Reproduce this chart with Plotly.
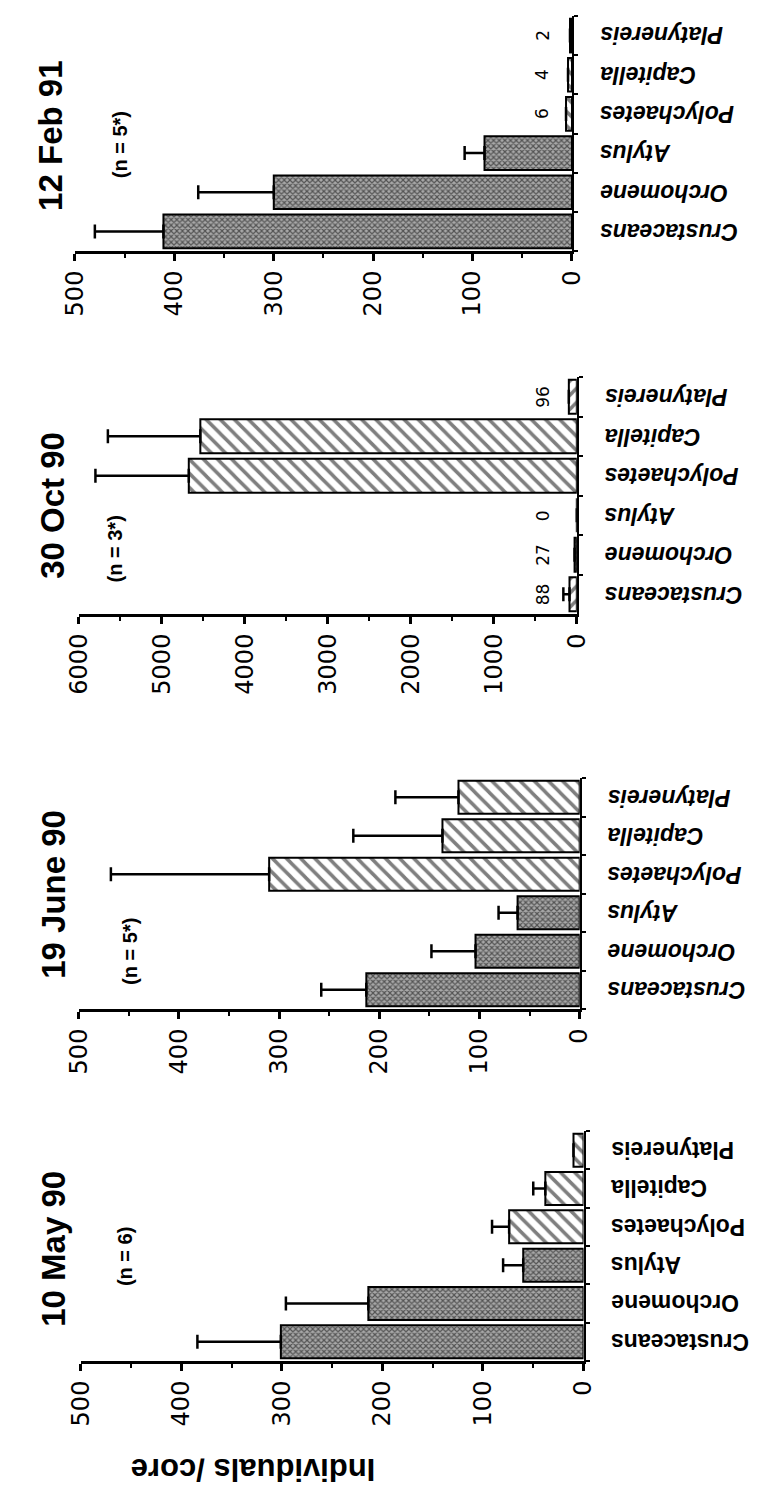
import plotly.graph_objects as go

W, H = 761, 1494

categories = ["Crustaceans", "Orchomene", "Atylus", "Polychaetes", "Capitella", "Platynereis"]

# Panels from top to bottom (image is a rotated page)
titles = ["12 Feb 91", "30 Oct 90", "19 June 90", "10 May 90"]
n_labels = ["(n = 5*)", "(n = 3*)", "(n = 5*)", "(n = 6)"]

feb_mean = [411, 300, 88, 6, 4, 2]
feb_sd = [69, 76, 20, 0, 0, 0]
oct_mean = [88, 27, 0, 4675, 4536, 96]
oct_sd = [74, 0, 0, 1125, 1114, 0]
june_mean = [213, 104, 62, 310, 137, 121]
june_sd = [45, 44, 19, 158, 89, 63]
may_mean = [301, 214, 60, 74, 38, 10]
may_sd = [83, 82, 20, 17, 12, 0]

oct_value_labels = ["88", "27", "0", "", "", "96"]
feb_value_labels = ["", "", "", "6", "4", "2"]

axis_max = [500, 6000, 500, 500]
axis_dtick = [100, 1000, 100, 100]
value_axis_title = "Individuals /core"

# layout geometry in pixels (left, right, top, bottom of plot area)
geom = [
    (55, 571, 8, 243),
    (59, 576, 369, 606),
    (59, 579, 770, 1001),
    (61, 583, 1123, 1353),
]
title_pos = [(30, 128), (32, 497), (32, 886), (32, 1241)]
n_pos = [(102, 137), (97, 541), (112, 943), (107, 1249)]

STIP = "x"
HATCH = "\\"
shapes_std = [STIP, STIP, STIP, HATCH, HATCH, HATCH]
shapes_oct = ["/", STIP, STIP, HATCH, HATCH, "/"]

means = [feb_mean, oct_mean, june_mean, may_mean]
sds = [feb_sd, oct_sd, june_sd, may_sd]
pshapes = [shapes_std, shapes_oct, shapes_std, shapes_std]

FONT = "Liberation Sans, Arial, sans-serif"
TICKFONT = "DejaVu Sans, sans-serif"

fig = go.Figure()
annotations = []

for i in range(4):
    xa = "x" if i == 0 else f"x{i+1}"
    ya = "y" if i == 0 else f"y{i+1}"
    shp = pshapes[i]
    sizes = [4 if s == STIP else 10 for s in shp]
    solid = [0.5 if s == STIP else 0.35 for s in shp]
    bgs = ["#a8a8a8" if s == STIP else "white" for s in shp]
    fig.add_trace(go.Bar(
        x=means[i], y=categories, orientation="h",
        xaxis=xa, yaxis=ya, width=0.86,
        marker=dict(color="white", line=dict(color="black", width=2),
                    pattern=dict(shape=shp, fgcolor="black", bgcolor=bgs,
                                 size=sizes, solidity=solid)),
        error_x=dict(type="data", symmetric=False, array=sds[i],
                     arrayminus=[0] * len(categories),
                     color="black", thickness=2.5, width=7),
        showlegend=False, hoverinfo="skip",
    ))

    l, r, t, b = geom[i]
    xkey = "xaxis" if i == 0 else f"xaxis{i+1}"
    ykey = "yaxis" if i == 0 else f"yaxis{i+1}"
    fig.update_layout(**{
        xkey: dict(
            domain=[l / W, r / W], anchor=ya,
            range=[axis_max[i], 0], tickmode="linear", tick0=0, dtick=axis_dtick[i],
            tickangle=-90, ticks="outside", ticklen=7, tickwidth=2.5, tickcolor="black",
            showline=True, linewidth=3, linecolor="black",
            tickfont=dict(family=TICKFONT, size=24, color="black"),
            minor=dict(dtick=axis_dtick[i] / 2, ticks="outside", ticklen=4,
                       tickwidth=2, tickcolor="black"),
            showgrid=False, zeroline=False, fixedrange=True,
        ),
        ykey: dict(
            domain=[1 - b / H, 1 - t / H], anchor=xa, side="right",
            type="category", categoryorder="array", categoryarray=categories,
            range=[-0.5, len(categories) - 0.5],
            showline=True, linewidth=2, linecolor="black",
            ticks="outside", tickson="boundaries", ticklen=4, tickwidth=2,
            tickcolor="black", showticklabels=False, showgrid=False,
            zeroline=False, fixedrange=True,
        ),
    })

    # category labels (upside-down, as on the rotated page)
    for c in categories:
        txt = f"<b>{c}</b>" if i == 3 else f"<b><i>{c}</i></b>"
        annotations.append(dict(
            text=txt, xref=f"{xa} domain", x=1, xshift=26, xanchor="left",
            yref=ya, y=c, yanchor="middle", textangle=180, showarrow=False,
            font=dict(family=FONT, size=23, color="black"),
        ))

    tx, ty = title_pos[i]
    annotations.append(dict(
        text=f"<b>{titles[i]}</b>", xref="paper", yref="paper",
        x=tx / W, y=1 - ty / H, xanchor="center", yanchor="middle",
        textangle=-90, showarrow=False,
        font=dict(family=FONT, size=33, color="black"),
    ))
    nx, ny = n_pos[i]
    annotations.append(dict(
        text=f"<b>{n_labels[i]}</b>", xref="paper", yref="paper",
        x=nx / W, y=1 - ny / H, xanchor="center", yanchor="middle",
        textangle=-90, showarrow=False,
        font=dict(family=FONT, size=20, color="black"),
    ))

# numeric value labels for tiny bars
for xa, ya, labels, xd in [("x2", "y2", oct_value_labels, 0.932), ("x", "y", feb_value_labels, 0.94)]:
    for c, lab in zip(categories, labels):
        if lab:
            annotations.append(dict(
                text=lab, xref=f"{xa} domain", x=xd, xanchor="center",
                yref=ya, y=c, yanchor="middle", textangle=-90, showarrow=False,
                font=dict(family=TICKFONT, size=17, color="black"),
            ))

annotations.append(dict(
    text=f"<b>{value_axis_title}</b>", xref="paper", yref="paper",
    x=240 / W, y=1 - 1462 / H, xanchor="center", yanchor="middle",
    textangle=180, showarrow=False,
    font=dict(family=FONT, size=31, color="black"),
))

fig.update_layout(
    width=W, height=H, margin=dict(l=0, r=0, t=0, b=0),
    paper_bgcolor="white", plot_bgcolor="white",
    annotations=annotations, bargap=0.14,
)

fig.write_html("out.html")
